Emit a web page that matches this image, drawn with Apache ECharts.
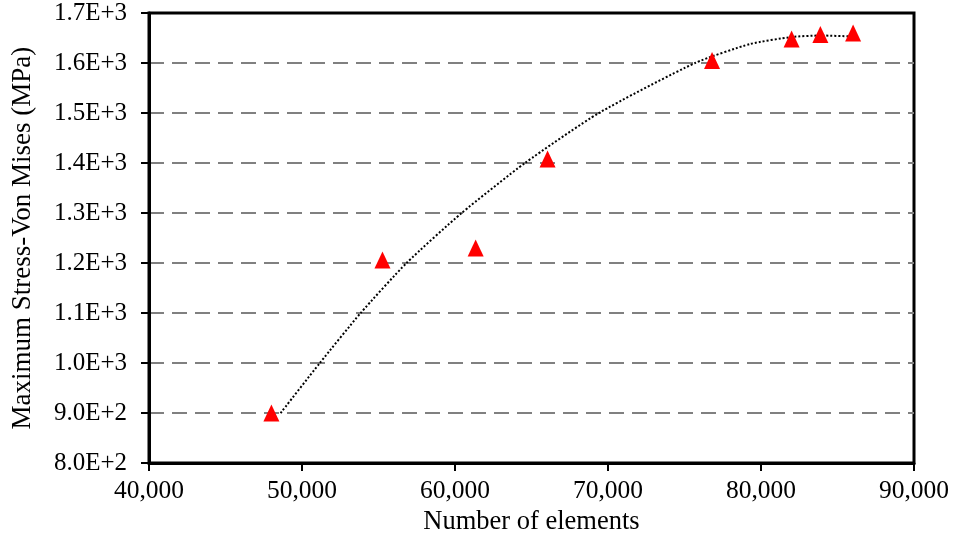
<!DOCTYPE html>
<html>
<head>
<meta charset="utf-8">
<script src="https://cdn.jsdelivr.net/npm/echarts@6/dist/echarts.min.js"></script>
<style>
  html, body { margin: 0; padding: 0; background: #fff; }
  #chart { width: 956px; height: 541px; }
</style>
</head>
<body>
<div id="chart"></div>
<script>
// Mesh size vs. peak von Mises stress
const elementCounts = [48000, 55260, 61350, 66050, 76800, 82000, 83880, 86020];
const maxStress = [900, 1206, 1230, 1408, 1605, 1648, 1657, 1660];

// Trendline values along the element-count range
const trendElements = [48600, 51160, 53830, 56830, 60430, 64570, 69400, 75690, 79290, 82010, 83870, 86020];
const trendStress = [900, 1000, 1100, 1200, 1300, 1400, 1500, 1600, 1638, 1652, 1655, 1653];

// Axis ranges
const xRange = { min: 40000, max: 90000, step: 10000 };
const yRange = { min: 800, max: 1700, step: 100 };

const font = 'Liberation Serif, Times New Roman, serif';
const chart = echarts.init(document.getElementById('chart'), null, { renderer: 'canvas' });

chart.setOption({
  animation: false,
  backgroundColor: '#ffffff',
  grid: { left: 149, right: 42, top: 13, bottom: 77, show: true, borderColor: '#000', borderWidth: 3 },
  xAxis: {
    type: 'value',
    min: xRange.min, max: xRange.max, interval: xRange.step,
    name: 'Number of elements',
    nameLocation: 'middle',
    nameGap: 44,
    nameTextStyle: { fontFamily: font, fontSize: 26.5, color: '#000' },
    axisLine: { show: true, onZero: false, lineStyle: { color: '#000', width: 3 } },
    axisTick: { show: true, length: 8, lineStyle: { color: '#000', width: 2 } },
    axisLabel: {
      fontFamily: font, fontSize: 25.5, color: '#000', margin: 15,
      formatter: v => v.toLocaleString('en-US')
    },
    splitLine: { show: false }
  },
  yAxis: {
    type: 'value',
    min: yRange.min, max: yRange.max, interval: yRange.step,
    name: 'Maximum Stress-Von Mises (MPa)',
    nameLocation: 'middle',
    nameGap: 113,
    nameTextStyle: { fontFamily: font, fontSize: 27, color: '#000' },
    axisLine: { show: true, onZero: false, lineStyle: { color: '#000', width: 3 } },
    axisTick: { show: true, length: 8, lineStyle: { color: '#000', width: 2 } },
    axisLabel: {
      fontFamily: font, fontSize: 25, color: '#000', margin: 22,
      padding: [8, 0, 0, 0],
      formatter: v => v.toExponential(1).replace('e', 'E')
    },
    splitLine: {
      show: true, showMinLine: false, showMaxLine: false,
      lineStyle: { color: '#808080', width: 2, type: [15, 8] }
    }
  },
  series: [
    {
      name: 'Trend',
      type: 'line',
      data: trendElements.map((x, i) => [x, trendStress[i]]),
      showSymbol: false,
      smooth: 0.2,
      lineStyle: { color: '#000', width: 2, type: [2, 2] },
      z: 2
    },
    {
      name: 'Max stress',
      type: 'scatter',
      data: elementCounts.map((x, i) => [x, maxStress[i]]),
      symbol: 'triangle',
      symbolSize: [16, 17],
      itemStyle: { color: '#ff0000', opacity: 1 },
      z: 3
    }
  ]
});
</script>
</body>
</html>
